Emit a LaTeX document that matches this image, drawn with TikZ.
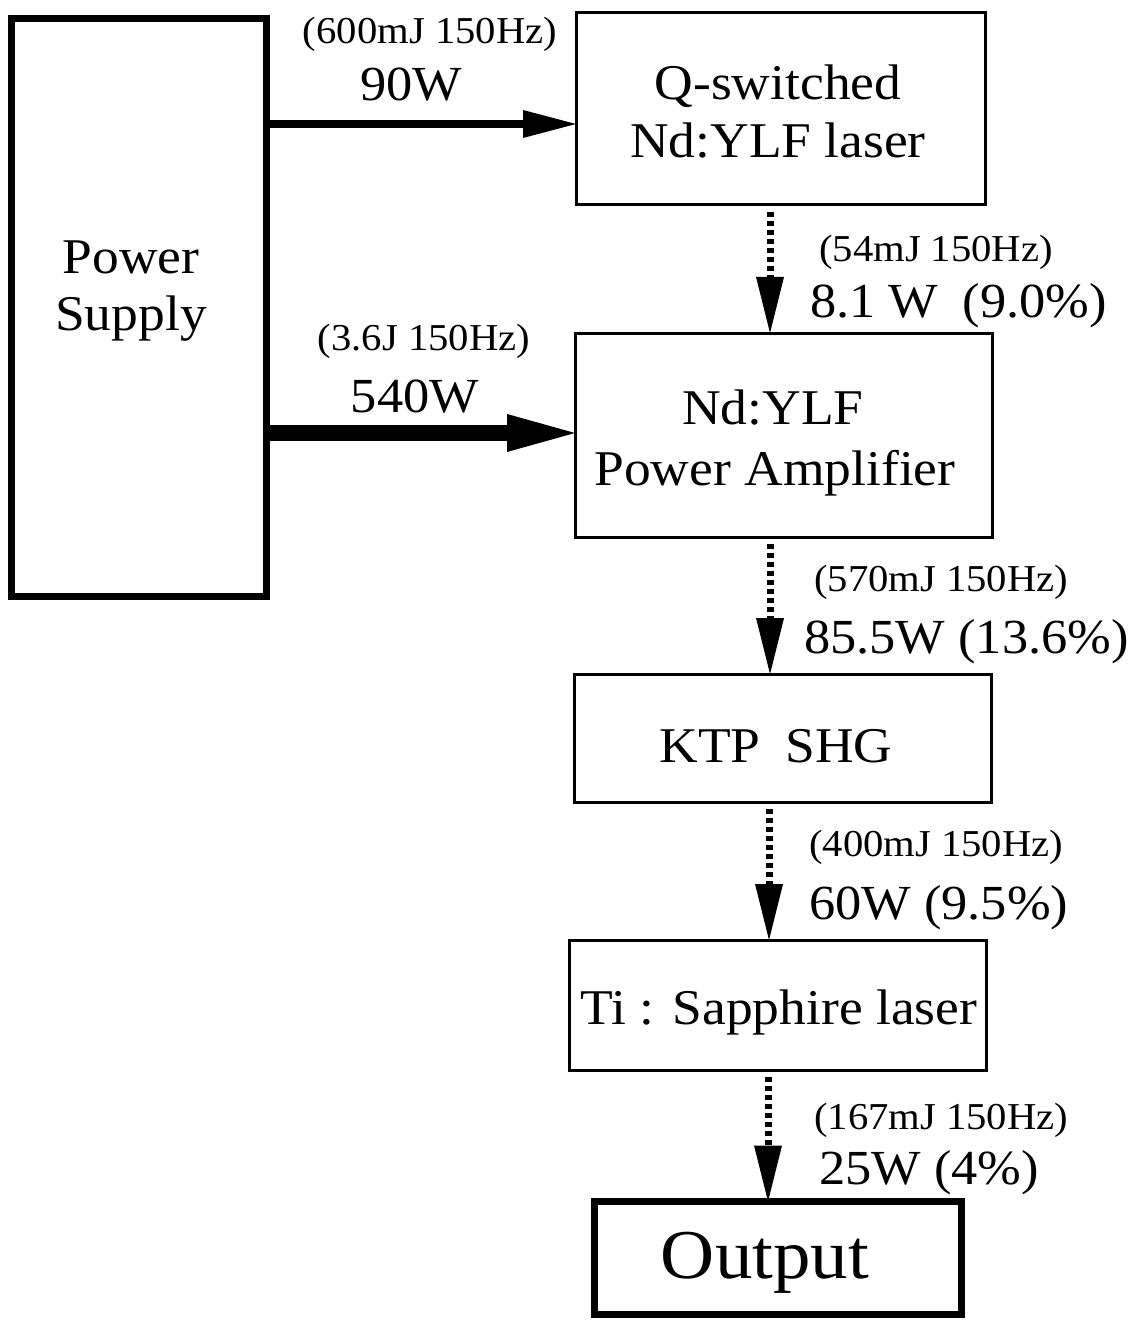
\documentclass[tikz,border=0pt]{standalone}
\usepackage{fontspec}
\setmainfont{Liberation Serif}[FakeStretch=1.07]
\usetikzlibrary{arrows.meta}
\tikzset{
  box/.style={draw=black, line width=3pt, inner sep=0pt, outer sep=0pt},
  heavybox/.style={draw=black, line width=7pt, inner sep=0pt, outer sep=0pt},
  txt/.style={inner sep=0pt, anchor=base, font=\fontsize{50}{58}\selectfont},
  bigtxt/.style={inner sep=0pt, anchor=base, font=\fontsize{70}{80}\selectfont},
  small/.style={inner sep=0pt, font=\fontsize{38}{44}\selectfont},
  big/.style={inner sep=0pt, font=\fontsize{49}{56}\selectfont},
  feed/.style={draw=black, line width=#1},
  dotarrow/.style={draw=black, line width=7pt, dash pattern=on 5pt off 4pt,
    shorten <=7pt, -{Triangle[length=56pt,width=28pt,line width=0pt]}},
}
\begin{document}
\begin{tikzpicture}[x=1pt,y=-1pt]
\fill[white] (0,0) rectangle (1145,1321);
\useasboundingbox (0,0) rectangle (1145,1321);

% boxes
\node[heavybox, minimum width=255pt, minimum height=577pt] (ps) at (138.5,307.5) {};
\node[box, minimum width=409pt, minimum height=192pt] (q) at (780.5,109) {};
\node[box, minimum width=417pt, minimum height=204pt] (amp) at (783.5,435) {};
\node[box, minimum width=417pt, minimum height=128pt] (ktp) at (782.5,738) {};
\node[box, minimum width=417pt, minimum height=130pt] (ti) at (777.5,1005) {};
\node[heavybox, minimum width=367pt, minimum height=113pt] (out) at (778,1258) {};

% box texts
\node[txt] (ps1) at (131,274) {Power};
\node[txt] (ps2) at (131,330) {Supply};
\node[txt] (q1) at (778,100) {Q-switched};
\node[txt] (q2) at (778,158) {Nd:YLF laser};
\node[txt] (a1) at (773,424) {Nd:YLF};
\node[txt] (a2) at (775,485) {Power Amplifier};
\node[txt] (k1) at (776,762) {KTP\enspace SHG};
\node[txt] (t1) at (779,1024) {Ti : Sapphire laser};
\node[bigtxt] (o1) at (765,1278) {Output};

% pump arrows
\coordinate (r1) at (0,124);
\coordinate (r2) at (0,433);
\draw[feed=8pt, -{Triangle[length=53pt,width=28pt,line width=0pt]}] (ps.east |- r1) -- (q.west |- r1);
\draw[feed=16pt, -{Triangle[length=68pt,width=38pt,line width=0pt]}] (ps.east |- r2) -- (amp.west |- r2);

\node[small, anchor=base] (l1) at (430,44) {(600mJ 150Hz)};
\node[big, anchor=base] (l2) at (411,101) {90W};
\node[small, anchor=base] (l3) at (424,350) {(3.6J 150Hz)};
\node[big, anchor=base] (l4) at (415,412) {540W};

% beam arrows
\coordinate (c1) at (770,0);
\coordinate (c2) at (770,0);
\coordinate (c3) at (769,0);
\coordinate (c4) at (768,0);
\draw[dotarrow] (q.south -| c1) -- (amp.north -| c1);
\draw[dotarrow] (amp.south -| c2) -- (ktp.north -| c2);
\draw[dotarrow] (ktp.south -| c3) -- (ti.north -| c3);
\draw[dotarrow] (ti.south -| c4) -- (out.north -| c4);

\node[small, anchor=base west] (b1) at (819,262) {(54mJ 150Hz)};
\node[big, anchor=base west] (b2) at (810,317) {8.1 W\enspace (9.0\%)};
\node[small, anchor=base west] (b3) at (814,591) {(570mJ 150Hz)};
\node[big, anchor=base west] (b4) at (804,653) {85.5W (13.6\%)};
\node[small, anchor=base west] (b5) at (809,856) {(400mJ 150Hz)};
\node[big, anchor=base west] (b6) at (809,919) {60W (9.5\%)};
\node[small, anchor=base west] (b7) at (814,1129) {(167mJ 150Hz)};
\node[big, anchor=base west] (b8) at (819,1184) {25W (4\%)};
\end{tikzpicture}
\end{document}
